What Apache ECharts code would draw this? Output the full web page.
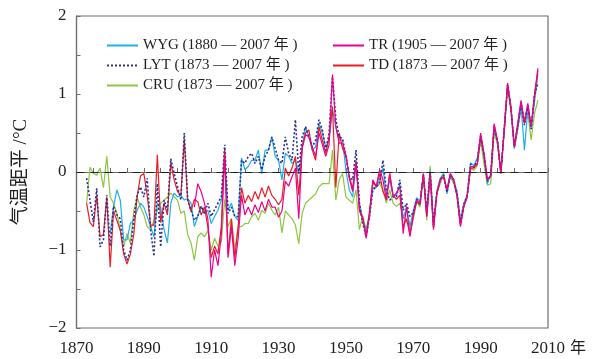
<!DOCTYPE html>
<html>
<head>
<meta charset="utf-8">
<script src="https://cdn.jsdelivr.net/npm/echarts@6/dist/echarts.min.js"></script>
<style>html,body{margin:0;padding:0;background:#fff}#c{width:598px;height:359px}</style>
</head>
<body>
<div id="c"></div>
<script>
const startYear = 1873;
const endYear = 2007;
const xTicks = [1870, 1890, 1910, 1930, 1950, 1970, 1990, 2010];
const yTicks = [-2, -1, 0, 1, 2];
const xUnit = '年';

const names = {
  WYG: 'WYG (1880 — 2007 年 )',
  LYT: 'LYT (1873 — 2007 年 )',
  CRU: 'CRU (1873 — 2007 年 )',
  TR:  'TR (1905 — 2007 年 )',
  TD:  'TD (1873 — 2007 年 )'
};

// TD 1873-2007
const tdValues = [
-0.40,-0.65,-0.70,-0.30,-0.83,-0.80,-0.32,-1.22,-0.50,-0.62,
-0.75,-1.05,-1.18,-1.05,-0.80,-0.32,-0.05,-0.02,-0.30,-0.68,
-0.68,0.22,-0.65,-0.40,-0.55,0.12,-0.10,-0.25,-0.30,0.42,
-0.35,-0.50,-0.35,-0.38,-0.55,-0.45,-0.70,-1.10,-0.95,-1.05,
-0.70,0.30,-1.05,-0.60,-1.10,-0.70,-0.20,-0.40,-0.30,-0.38,
-0.25,-0.35,-0.20,-0.32,-0.18,-0.30,-0.35,-0.42,-0.35,0.05,
-0.05,0.05,0.20,-0.30,0.32,0.50,0.54,0.28,0.15,0.58,
0.41,0.24,0.45,0.84,-0.20,0.50,0.30,0.20,-0.05,-0.22,
0.15,-0.48,-0.58,-0.83,-0.50,-0.12,-0.18,-0.02,-0.25,-0.35,
-0.02,-0.30,-0.35,-0.30,-0.70,-0.60,-0.80,
-0.55,-0.38,-0.42,-0.02,-0.57,-0.02,-0.72,-0.27,-0.10,-0.06,
-0.23,-0.02,-0.10,-0.30,-0.68,-0.44,-0.32,0.05,0.05,0.10,
0.45,0.22,-0.10,-0.05,0.60,0.40,-0.02,0.52,1.12,0.82,
0.32,0.60,0.90,0.65,0.86,0.58,0.98,1.30
];

// TR 1905-2007
const trStart = 1905;
const trValues = [
-0.45,-0.15,-0.25,-0.40,-0.60,-1.35,-1.00,-1.20,-0.80,0.25,
-1.10,-0.70,-1.20,-0.85,-0.30,-0.55,-0.45,-0.55,-0.42,-0.52,
-0.38,-0.50,-0.35,-0.45,-0.45,-0.58,-0.50,-0.12,-0.18,-0.06,
0.05,-0.60,0.30,0.48,0.45,0.32,0.20,0.50,0.35,0.20,
0.35,1.25,0.58,0.37,0.37,0.22,-0.08,-0.25,0.12,-0.50,
-0.60,-0.85,-0.55,-0.10,-0.19,0.03,-0.10,-0.36,-0.02,-0.32,
-0.27,-0.19,-0.79,-0.44,-0.83,
-0.57,-0.36,-0.40,-0.02,-0.57,-0.02,-0.74,-0.27,-0.10,-0.06,
-0.23,-0.02,-0.10,-0.32,-0.70,-0.44,-0.32,0.07,0.07,0.11,
0.50,0.24,-0.10,-0.06,0.62,0.40,-0.02,0.55,1.14,0.84,
0.32,0.62,0.92,0.62,0.88,0.58,1.00,1.33
];

// LYT 1873-2007
const lytValues = [
-0.08,-0.36,-0.64,-0.21,-0.96,-0.87,-0.30,-0.95,-0.44,-0.55,
-0.60,-1.00,-1.13,-1.00,-0.60,-0.30,-0.19,-0.32,-0.08,-0.74,
-1.08,-0.15,-0.96,-0.36,-0.49,0.17,-0.02,-0.19,-0.36,0.50,
-0.36,-0.49,-0.62,-0.57,-0.44,-0.53,-0.40,-0.57,-0.48,-0.40,
-0.32,0.35,-0.53,-0.45,-0.57,-0.57,0.15,0.11,0.20,0.24,
0.11,0.20,0.03,0.20,0.28,0.45,0.30,0.15,0.11,0.45,
0.24,0.15,0.67,-0.02,0.45,0.58,0.45,0.32,0.41,0.67,
0.54,0.28,0.50,1.22,0.67,0.45,0.43,0.20,-0.06,-0.10,
0.28,-0.40,-0.66,-0.83,-0.57,-0.23,-0.19,-0.15,0.15,-0.23,
-0.36,-0.32,-0.32,-0.10,-0.49,-0.40,-0.57,
-0.52,-0.35,-0.40,-0.04,-0.52,0.00,-0.68,-0.26,-0.10,-0.04,
-0.26,-0.04,-0.10,-0.28,-0.65,-0.42,-0.30,0.10,0.06,0.15,
0.47,0.22,-0.12,-0.04,0.58,0.40,0.00,0.55,1.12,0.82,
0.33,0.58,0.88,0.60,0.85,0.55,0.98,1.14
];

// WYG 1880-2007
const wygStart = 1880;
const wygValues = [
-0.79,-0.44,-0.23,-0.36,-0.87,-0.87,-0.66,-0.62,-0.49,-0.40,
-0.45,-0.57,-0.70,-0.83,-0.40,-0.45,-0.74,-0.91,-0.40,-0.27,
-0.32,-0.30,-0.36,-0.34,-0.40,-0.70,-0.57,-0.44,-0.53,-0.49,
-0.66,-0.57,-0.49,-0.36,0.20,-0.49,-0.40,-0.57,-0.62,0.18,
0.03,0.07,0.15,0.15,0.28,-0.02,0.28,0.28,0.45,0.20,
0.15,-0.10,0.24,0.20,0.11,0.15,-0.02,0.32,0.58,0.45,
0.28,0.32,0.62,0.50,0.32,0.41,0.80,0.58,0.41,0.41,
0.02,-0.23,-0.32,0.11,-0.40,-0.62,-0.74,-0.55,-0.20,-0.20,
-0.10,0.05,-0.30,-0.10,-0.30,-0.30,-0.15,-0.60,-0.45,-0.70,
-0.50,-0.33,-0.38,-0.05,-0.50,0.02,-0.66,-0.25,-0.08,-0.02,
-0.28,-0.05,-0.12,-0.25,-0.62,-0.40,-0.30,0.12,0.08,0.18,
0.45,0.20,-0.15,-0.02,0.55,0.38,0.00,0.55,1.10,0.80,
0.30,0.55,0.85,0.28,0.80,0.55,0.90,1.25
];

// CRU 1873-2007
const cruValues = [
-0.40,0.06,-0.02,-0.04,0.05,-0.20,0.20,-0.32,-0.40,-0.53,
-0.74,-0.96,-0.79,-0.91,-0.50,-0.32,-0.45,-0.55,-0.70,-0.74,
-0.62,-0.49,-0.40,-0.36,-0.32,-0.27,-0.32,-0.36,-0.53,-0.50,
-0.80,-0.91,-1.13,-0.83,-0.78,-0.83,-0.75,-1.00,-0.85,-0.95,
-0.90,-0.35,-0.70,-0.60,-1.00,-0.70,-0.70,-0.66,-0.66,-0.57,
-0.53,-0.62,-0.49,-0.53,-0.40,-0.49,-0.55,-0.45,-0.78,-0.50,
-0.55,-0.60,-0.68,-0.92,-0.53,-0.40,-0.36,-0.32,-0.28,-0.19,
-0.15,-0.15,-0.15,0.28,-0.36,-0.10,-0.02,-0.32,-0.36,-0.40,
-0.23,-0.74,-0.57,-0.74,-0.57,-0.15,-0.19,-0.15,-0.23,-0.40,
-0.23,-0.40,-0.44,-0.40,-0.57,-0.62,-0.74,
-0.60,-0.38,-0.45,-0.06,-0.62,0.08,-0.70,-0.28,-0.15,-0.02,
-0.25,-0.06,-0.15,-0.30,-0.66,-0.45,-0.28,0.05,0.02,0.08,
0.40,0.10,-0.17,-0.15,0.50,0.35,-0.02,0.52,1.08,0.78,
0.30,0.55,0.80,0.62,0.75,0.41,0.75,0.92
];

function pairs(first, vals) {
  return vals.map((v, i) => [first + i, v]);
}

const serif = '"Liberation Serif", "Times New Roman", "Noto Sans CJK SC", serif';
const cjk = '"Liberation Serif", "Noto Sans CJK SC", serif';

function mk(name, first, vals, color, extra) {
  return Object.assign({
    name: name, type: 'line', data: pairs(first, vals),
    symbol: 'none', showSymbol: false, animation: false,
    lineStyle: { color: color, width: 1.2 },
    itemStyle: { color: color }
  }, extra || {});
}

const legendCommon = {
  orient: 'vertical', itemWidth: 31, itemHeight: 14, itemGap: 5,
  itemStyle: { opacity: 0, borderWidth: 0 },
  textStyle: { fontFamily: cjk, fontSize: 15, color: '#231f20', padding: [0, 0, 0, 0] }
};

const chart = echarts.init(document.getElementById('c'), null, { renderer: 'canvas' });
chart.setOption({
  animation: false,
  backgroundColor: '#ffffff',
  grid: { left: 76.5, right: 50, top: 16, bottom: 31, show: true, borderColor: '#6d6e70', borderWidth: 1.2, containLabel: false },
  legend: [
    Object.assign({ data: [names.WYG, names.LYT, names.CRU], left: 101, top: 33 }, legendCommon),
    Object.assign({ data: [names.TR, names.TD], left: 327, top: 33 }, legendCommon)
  ],
  xAxis: {
    type: 'value', min: xTicks[0], max: xTicks[xTicks.length - 1], interval: 20,
    axisLine: { show: true, lineStyle: { color: '#6d6e70', width: 1.2 } },
    axisTick: { show: true, inside: true, length: 4, lineStyle: { color: '#6d6e70' } },
    minorTick: { show: true, splitNumber: 4, length: 4, lineStyle: { color: '#6d6e70' } },
    splitLine: { show: false },
    axisLabel: {
      fontFamily: serif, fontSize: 17, color: '#231f20', margin: 12,
      formatter: v => (v === xTicks[xTicks.length - 1] ? '{p|}' + v + '{u| ' + xUnit + '}' : String(v)),
      rich: {
        p: { width: 22 },
        u: { fontFamily: cjk, fontSize: 16, color: '#231f20', width: 22, align: 'left' }
      }
    }
  },
  yAxis: {
    type: 'value', min: yTicks[0], max: yTicks[yTicks.length - 1], interval: 1,
    name: '气温距平 /°C', nameLocation: 'middle', nameGap: 46,
    nameTextStyle: { fontFamily: cjk, fontSize: 19, color: '#231f20' },
    axisLine: { show: true, lineStyle: { color: '#6d6e70', width: 1.2 } },
    axisTick: { show: true, inside: true, length: 4, lineStyle: { color: '#6d6e70' } },
    minorTick: { show: true, splitNumber: 2, length: 4, lineStyle: { color: '#6d6e70' } },
    splitLine: { show: false },
    axisLabel: { fontFamily: serif, fontSize: 17, color: '#231f20', margin: 10,
      formatter: v => (v < 0 ? '\u2212' + Math.abs(v) : String(v)) }
  },
  series: [
    mk(names.CRU, startYear, cruValues, '#8dc63f'),
    mk(names.WYG, wygStart, wygValues, '#1cb0ec'),
    mk(names.TD, startYear, tdValues, '#ed1c24', {
      markLine: { silent: true, symbol: 'none', label: { show: false },
        lineStyle: { color: '#231f20', type: [8, 6], width: 1 },
        data: [{ yAxis: 0 }] }
    }),
    mk(names.LYT, startYear, lytValues, '#2e3192', { lineStyle: { color: '#2e3192', width: 1.6, type: [2, 2] } }),
    mk(names.TR, trStart, trValues, '#ec008c')
  ]
});
</script>
</body>
</html>
